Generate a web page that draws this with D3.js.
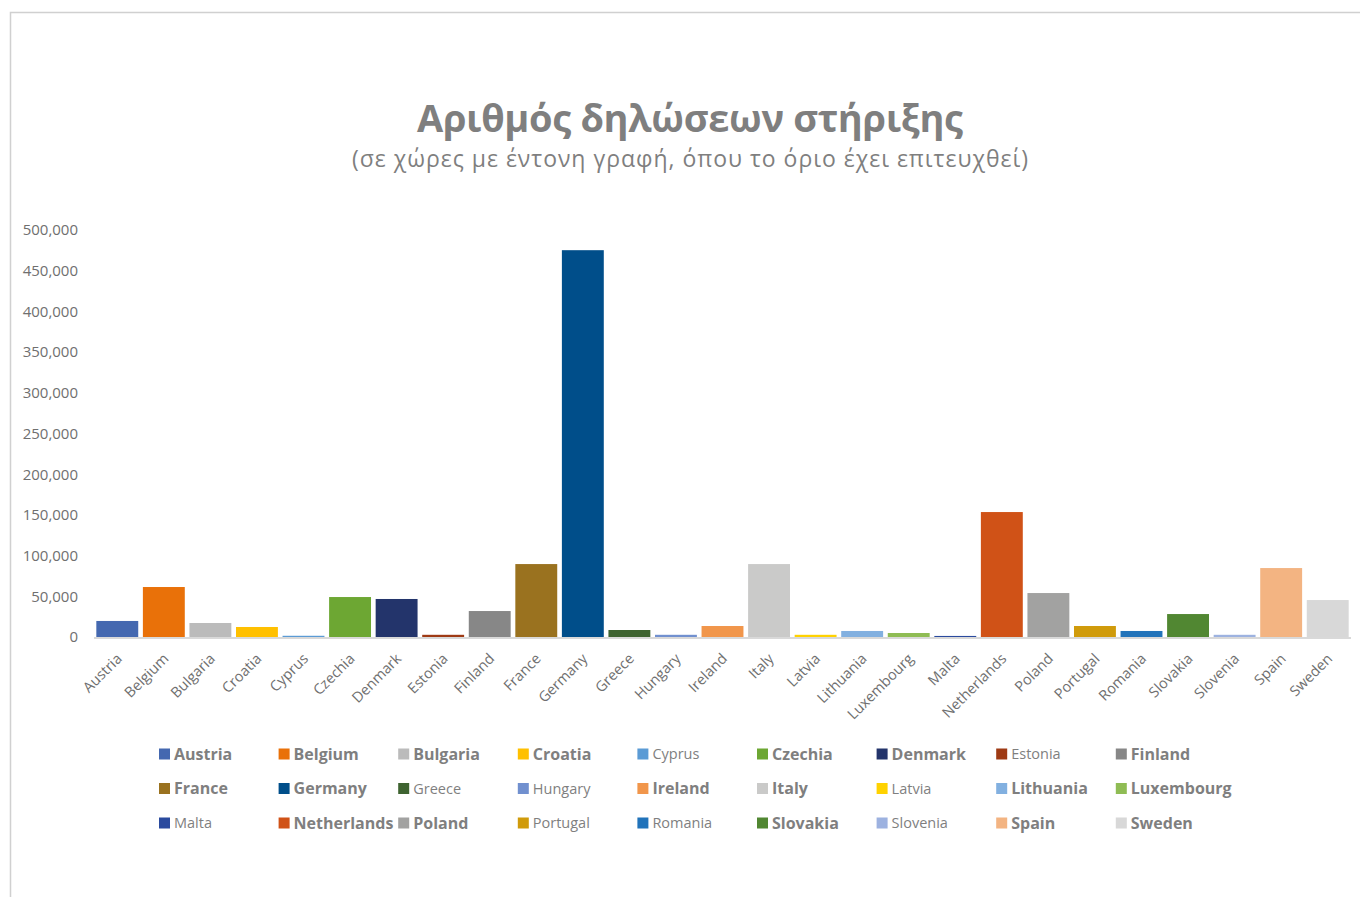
<!DOCTYPE html>
<html>
<head>
<meta charset="utf-8">
<script src="https://cdn.jsdelivr.net/npm/d3@7"></script>
<style>
  body { margin: 0; background: #fff; }
  svg { display: block; font-family: "Open Sans", "Noto Sans", sans-serif; }
</style>
</head>
<body>
<svg id="chart" width="1360" height="897"></svg>
<script>
const countries = ["Austria","Belgium","Bulgaria","Croatia","Cyprus","Czechia","Denmark","Estonia","Finland","France","Germany","Greece","Hungary","Ireland","Italy","Latvia","Lithuania","Luxembourg","Malta","Netherlands","Poland","Portugal","Romania","Slovakia","Slovenia","Spain","Sweden"];
const values = [19700, 61400, 17200, 12300, 1500, 49100, 46700, 2700, 31900, 89600, 475200, 8600, 2700, 13500, 89600, 2700, 7400, 4900, 1300, 153500, 54000, 13500, 7400, 28200, 2700, 84700, 45400];
// threshold reached -> bold in legend
const reached = ["Austria","Belgium","Bulgaria","Croatia","Czechia","Denmark","Finland","France","Germany","Ireland","Italy","Lithuania","Luxembourg","Netherlands","Poland","Slovakia","Spain","Sweden"];
const colors = ["#4468B0","#E97109","#BBBBBB","#FFC000","#5B9BD5","#6DA733","#23346B","#9E3A14","#878787","#9A721F","#004E8A","#3E6330","#7190CF","#F1964B","#CACAC9","#FFD200","#82B0E0","#8FBC54","#2A4A9E","#D05217","#A2A2A1","#D09B0B","#2173BA","#518732","#9DB2E0","#F3B482","#D8D8D8"];
const yTicks = [0, 50000, 100000, 150000, 200000, 250000, 300000, 350000, 400000, 450000, 500000];
const title = "Αριθμός δηλώσεων στήριξης";
const subtitle = "(σε χώρες με έντονη γραφή, όπου το όριο έχει επιτευχθεί)";

const data = countries.map((c, i) => ({ country: c, value: values[i], color: colors[i], bold: reached.includes(c) }));

const svg = d3.select("#chart");
const textColor = "#7f7f7f";

// chart frame
svg.append("path")
    .attr("d", "M10.5,897 L10.5,12.5 L1360,12.5")
    .attr("fill", "none")
    .attr("stroke", "#d0d0d0")
    .attr("stroke-width", 1.5);

svg.append("text")
    .attr("x", 690).attr("y", 132)
    .attr("text-anchor", "middle")
    .attr("font-size", 38).attr("font-weight", "bold")
    .attr("fill", textColor)
    .attr("textLength", 546)
    .text(title);

svg.append("text")
    .attr("x", 690).attr("y", 167)
    .attr("text-anchor", "middle")
    .attr("font-size", 23)
    .attr("fill", textColor)
    .attr("textLength", 676)
    .text(subtitle);

const x = d3.scaleBand()
    .domain(countries)
    .range([94, 1351])
    .paddingInner(0.1)
    .paddingOuter(0.05);

const y = d3.scaleLinear()
    .domain([0, 500000])
    .range([637, 230]);

// y axis labels
const yAxis = d3.axisLeft(y)
    .tickValues(yTicks)
    .tickSize(0)
    .tickPadding(0)
    .tickFormat(d3.format(","));

const yg = svg.append("g")
    .attr("transform", "translate(78,0)")
    .call(yAxis);
yg.select(".domain").remove();
yg.selectAll("text")
    .attr("font-size", 15)
    .attr("fill", "#6f6f6f")
    .attr("font-family", "\"Open Sans\", sans-serif");

// bars
svg.append("g").selectAll("rect")
    .data(data)
    .join("rect")
    .attr("x", d => x(d.country))
    .attr("y", d => y(d.value))
    .attr("width", x.bandwidth())
    .attr("height", d => y(0) - y(d.value))
    .attr("fill", d => d.color);

// baseline
svg.append("line")
    .attr("x1", 94).attr("x2", 1351)
    .attr("y1", y(0) + 1).attr("y2", y(0) + 1)
    .attr("stroke", "#d9d9d9")
    .attr("stroke-width", 2);

// x labels
svg.append("g").selectAll("text")
    .data(data)
    .join("text")
    .attr("transform", d => `translate(${x(d.country) + x.bandwidth() / 2 + 2},${y(0) + 19}) rotate(-45)`)
    .attr("text-anchor", "end")
    .attr("dy", "0.35em")
    .attr("font-size", 14.5)
    .attr("fill", "#6f6f6f")
    .text(d => d.country);

// legend
const cols = 9;
const legend = svg.append("g").selectAll("g")
    .data(data)
    .join("g")
    .attr("transform", (d, i) => `translate(${159 + (i % cols) * 119.6},${754 + Math.floor(i / cols) * 34.5})`);

legend.append("rect")
    .attr("x", 0).attr("y", -5.5)
    .attr("width", 11).attr("height", 11)
    .attr("fill", d => d.color);

legend.append("text")
    .attr("x", 15)
    .attr("dy", "0.35em")
    .attr("font-size", d => d.bold ? 16 : 14.5)
    .attr("font-weight", d => d.bold ? "bold" : "normal")
    .attr("fill", textColor)
    .text(d => d.country);
</script>
</body>
</html>
